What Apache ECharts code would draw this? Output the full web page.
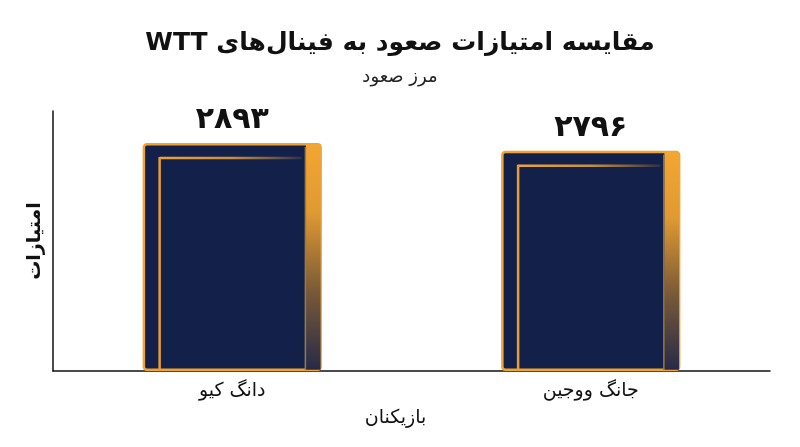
<!DOCTYPE html>
<html>
<head>
<meta charset="utf-8">
<script src="https://cdn.jsdelivr.net/npm/echarts@6/dist/echarts.min.js"></script>
<style>
html,body{margin:0;padding:0;background:#fff;}
#chart{width:800px;height:447px;}
</style>
</head>
<body>
<div id="chart" dir="rtl"></div>
<script>
const titleText = 'مقایسه امتیازات صعود به فینال‌های WTT';
const subtitleText = 'مرز صعود';
const categories = ['دانگ کیو', 'جانگ ووجین'];
const scores = [2893, 2796];
const xAxisName = 'بازیکنان';
const yAxisName = 'امتیازات';

const NAVY = '#13214a';
const ORANGE = '#F0A332';
const FONT = 'DejaVu Sans, Noto Sans, sans-serif';

function toPersianDigits(n) {
  const d = ['۰','۱','۲','۳','۴','۵','۶','۷','۸','۹'];
  return String(n).replace(/[0-9]/g, c => d[+c]);
}

const chart = echarts.init(document.getElementById('chart'));
const BAR_RATIO = 0.5;

chart.setOption({
  backgroundColor: '#fff',
  animation: false,
  title: {
    text: titleText,
    subtext: subtitleText,
    left: 'center',
    top: 26,
    itemGap: 12,
    padding: [5, 15, 5, 5],
    textStyle: { fontFamily: FONT, fontSize: 25, fontWeight: 'bold', color: '#111' },
    subtextStyle: { fontFamily: FONT, fontSize: 18, color: '#222' }
  },
  grid: { left: 53, right: 30, top: 111, bottom: 76, containLabel: false },
  xAxis: {
    type: 'category',
    data: categories,
    name: xAxisName,
    nameLocation: 'middle',
    nameGap: 38,
    nameTextStyle: { fontFamily: FONT, fontSize: 19, color: '#111', padding: [0, 32, 0, 0] },
    axisLine: { show: true, lineStyle: { color: '#111', width: 1.5 } },
    axisTick: { show: false },
    axisLabel: { fontFamily: FONT, fontSize: 19, fontWeight: 500, color: '#111', margin: 11 }
  },
  yAxis: {
    type: 'value',
    min: 0,
    max: 3300,
    name: yAxisName,
    nameLocation: 'middle',
    nameGap: 8,
    nameRotate: 90,
    nameTextStyle: { fontFamily: FONT, fontSize: 19, fontWeight: 'bold', color: '#111' },
    axisLine: { show: true, lineStyle: { color: '#111', width: 1.5 } },
    axisTick: { show: false },
    axisLabel: { show: false },
    splitLine: { show: false }
  },
  series: [
    {
      type: 'bar',
      data: scores,
      barWidth: (BAR_RATIO * 100) + '%',
      z: 2,
      itemStyle: { color: NAVY, borderColor: ORANGE, borderWidth: 2.5, borderRadius: 3 },
      label: {
        show: true,
        position: 'top',
        distance: 8,
        formatter: p => toPersianDigits(p.value),
        fontFamily: FONT,
        fontSize: 30,
        fontWeight: 'bold',
        color: '#111'
      }
    },
    {
      type: 'custom',
      z: 3,
      silent: true,
      data: scores.map((v, i) => [i, v]),
      renderItem: function (params, api) {
        const idx = api.value(0);
        const top = api.coord([idx, api.value(1)]);
        const base = api.coord([idx, 0]);
        const bw = api.size([1, 0])[0] * BAR_RATIO;
        const left = top[0] - bw / 2;
        const right = top[0] + bw / 2;
        const y0 = top[1];
        const y1 = base[1];
        return {
          type: 'group',
          children: [
            {
              type: 'rect',
              shape: { x: right - 16, y: y0 + 1.3, width: 14.7, height: y1 - y0 - 2.6 },
              style: {
                fill: new echarts.graphic.LinearGradient(0, 0, 0, 1, [
                  { offset: 0, color: '#F2A633' },
                  { offset: 0.3, color: '#E09A32' },
                  { offset: 0.65, color: '#7a5a38' },
                  { offset: 1, color: '#262a48' }
                ])
              }
            },
            {
              type: 'line',
              shape: { x1: right - 16.5, y1: y0 + 4, x2: right - 16.5, y2: y1 - 1 },
              style: { stroke: '#9c7a48', lineWidth: 1.5 }
            },
            {
              type: 'line',
              shape: { x1: left + 17, y1: y0 + 15, x2: right - 20, y2: y0 + 15 },
              style: {
                stroke: new echarts.graphic.LinearGradient(0, 0, 1, 0, [
                  { offset: 0, color: ORANGE },
                  { offset: 0.5, color: '#c99040' },
                  { offset: 1, color: 'rgba(240,163,50,0.1)' }
                ]),
                lineWidth: 2.5
              }
            },
            {
              type: 'line',
              shape: { x1: left + 17, y1: y0 + 14, x2: left + 17, y2: y1 - 1 },
              style: { stroke: '#E89E35', lineWidth: 2.5 }
            }
          ]
        };
      }
    }
  ]
});
</script>
</body>
</html>
